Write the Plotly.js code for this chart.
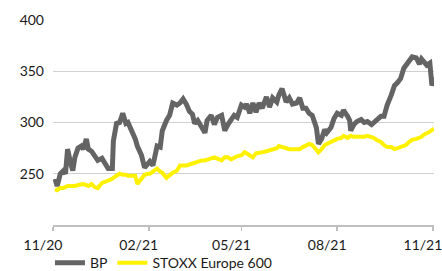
<!DOCTYPE html>
<html>
<head>
<meta charset="utf-8">
<script src="https://cdn.plot.ly/plotly-3.0.1.min.js"></script>
<style>
html,body{margin:0;padding:0;background:#fff;}
#chart{width:442px;height:271px;}
</style>
</head>
<body>
<div id="chart"></div>
<script>
const dates = [
"2020-11-03","2020-11-05","2020-11-08","2020-11-11","2020-11-13","2020-11-15","2020-11-18","2020-11-20","2020-11-22","2020-11-25",
"2020-11-28","2020-11-30","2020-12-03","2020-12-05","2020-12-08","2020-12-11","2020-12-14","2020-12-18","2020-12-21","2020-12-24",
"2020-12-28","2020-12-29","2021-01-01","2021-01-04","2021-01-07","2021-01-10","2021-01-12","2021-01-16","2021-01-19","2021-01-21",
"2021-01-25","2021-01-28","2021-01-31","2021-02-02","2021-02-05","2021-02-09","2021-02-12","2021-02-14","2021-02-18","2021-02-21",
"2021-02-24","2021-02-28","2021-03-03","2021-03-06","2021-03-09","2021-03-12","2021-03-15","2021-03-17","2021-03-20","2021-03-24",
"2021-03-27","2021-03-29","2021-04-02","2021-04-05","2021-04-08","2021-04-12","2021-04-15","2021-04-18","2021-04-21","2021-04-24",
"2021-04-27","2021-05-01","2021-05-04","2021-05-06","2021-05-09","2021-05-12","2021-05-15","2021-05-18","2021-05-21","2021-05-25",
"2021-05-28","2021-05-31","2021-06-04","2021-06-06","2021-06-09","2021-06-13","2021-06-16","2021-06-19","2021-06-23","2021-06-26",
"2021-06-29","2021-07-02","2021-07-05","2021-07-08","2021-07-12","2021-07-14","2021-07-17","2021-07-20","2021-07-22","2021-07-26",
"2021-07-29","2021-08-01","2021-08-05","2021-08-07","2021-08-11","2021-08-13","2021-08-14","2021-08-17","2021-08-20","2021-08-24",
"2021-08-27","2021-08-30","2021-09-03","2021-09-05","2021-09-08","2021-09-12","2021-09-15","2021-09-18","2021-09-22","2021-09-25",
"2021-09-28","2021-10-01","2021-10-04","2021-10-06","2021-10-09","2021-10-12","2021-10-16","2021-10-19","2021-10-21","2021-10-23",
"2021-10-26","2021-10-29","2021-10-30","2021-10-31","2021-11-02"
];
const bp = [
245,238,250,253,250,274,260,253,266,275,
277,274,284,274,272,268,263,265,261,255,
255,282,299,300,309,299,300,292,284,277,
268,256,260,262,258,277,276,292,302,307,
319,317,319,323,318,311,308,299,302,296,
290,302,307,298,305,307,292,298,302,307,
305,317,315,318,309,319,310,319,314,325,
315,324,320,327,333,320,324,318,319,324,
314,314,309,307,295,279,284,293,290,295,
304,309,307,312,306,302,292,298,301,303,
300,301,298,300,303,306,306,317,327,336,
339,343,353,356,359,364,363,357,362,360,
356,358,350,336,344
];
const stoxx = [
235,234,236,236,237,238,238,238,238,239,
240,240,239,238,240,237,236,241,242,243,
245,246,248,250,249,249,248,248,248,240,
245,249,250,250,252,255,252,251,246,249,
251,253,258,258,258,259,260,261,262,263,
263,264,265,266,265,263,266,266,264,266,
267,268,271,270,268,266,270,271,271,272,
273,274,275,277,276,274,274,274,274,274,
276,277,279,278,274,271,274,278,279,281,
283,284,285,287,285,286,287,286,286,286,
286,287,286,285,283,281,278,276,276,274,
275,276,277,278,281,283,284,285,286,288,
289,291,292,293,294
];
const tickDates = ["2020-11-01","2021-02-01","2021-05-01","2021-08-01","2021-11-01"];
const tickLabels = ["11/20","02/21","05/21","08/21","11/21"];
const yTicks = [250,300,350,400];
const seriesNames = ["BP","STOXX Europe 600"];

const font = {family:"Lato, 'Open Sans', sans-serif", size:14, color:"#1a1a1a"};

const traces = [
  {x:dates, y:bp, name:seriesNames[0], type:"scatter", mode:"lines",
   line:{color:"#646464", width:5}},
  {x:dates, y:stoxx, name:seriesNames[1], type:"scatter", mode:"lines",
   line:{color:"#FFF200", width:4}}
];

const layout = {
  width:442, height:271,
  margin:{l:53, r:8, t:20, b:46, autoexpand:false},
  paper_bgcolor:"#fff", plot_bgcolor:"#fff",
  font:font,
  showlegend:true,
  legend:{orientation:"h", x:-0.008, xanchor:"left", y:-0.108, yanchor:"top",
          font:font, itemwidth:30, tracegroupgap:0, bgcolor:"rgba(0,0,0,0)"},
  xaxis:{type:"date", range:["2020-11-01","2021-11-02"],
         tickvals:tickDates, ticktext:tickLabels,
         showgrid:false, zeroline:false,
         showline:true, linecolor:"#bfbfbf", linewidth:1.5,
         ticks:"outside", ticklen:4, tickcolor:"#bfbfbf", tickwidth:1.5,
         ticklabelshift:-10, ticklabelstandoff:3, ticklabeloverflow:"allow",
         tickfont:font},
  yaxis:{range:[200,400], tickvals:yTicks,
         showgrid:true, gridcolor:"#d0d0d0", gridwidth:1,
         zeroline:false, showline:false, ticks:"",
         ticklabelstandoff:8, tickfont:font}
};

Plotly.newPlot("chart", traces, layout, {displayModeBar:false, staticPlot:true});
</script>
</body>
</html>
